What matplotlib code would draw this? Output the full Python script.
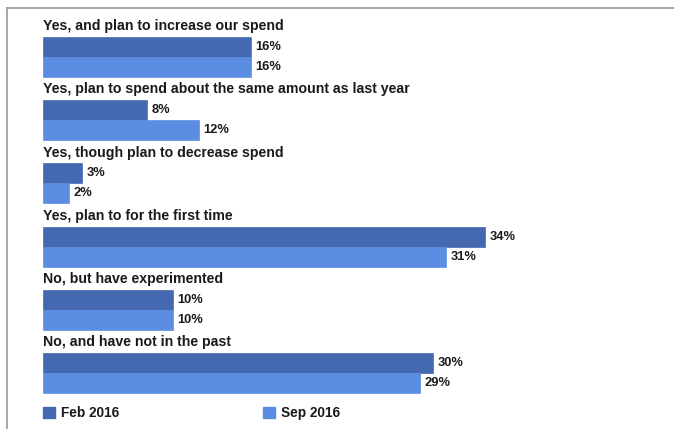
import matplotlib.pyplot as plt
from matplotlib.patches import Patch
from matplotlib.lines import Line2D

categories = [
    "Yes, and plan to increase our spend",
    "Yes, plan to spend about the same amount as last year",
    "Yes, though plan to decrease spend",
    "Yes, plan to for the first time",
    "No, but have experimented",
    "No, and have not in the past",
]
feb_2016 = [16, 8, 3, 34, 10, 30]
sep_2016 = [16, 12, 2, 31, 10, 29]
series_names = ["Feb 2016", "Sep 2016"]

DARK = "#4469b0"
LIGHT = "#5b8ee2"

plt.rcParams['font.family'] = ['Liberation Sans', 'DejaVu Sans']

W, H = 674, 429
fig = plt.figure(figsize=(W / 100, H / 100), dpi=100)
ax = fig.add_axes([0, 0, 1, 1])

# pixel layout: ~13 px per percent, 63.2 px per group, first bar top at y=37
px_per_pct = 13.0
px_per_group = 63.2
x0, y0 = 43, 37
ax.set_xlim(-x0 / px_per_pct, (W - x0) / px_per_pct)
ax.set_ylim((H - y0) / px_per_group, -y0 / px_per_group)
ax.axis('off')

bar_h = 20 / px_per_group
for i, cat in enumerate(categories):
    ax.text(0, i - 0.17, cat, fontsize=10.2, fontweight='bold', color='#1a1a1a',
            va='center', ha='left')
    for j, (vals, col) in enumerate([(feb_2016, DARK), (sep_2016, LIGHT)]):
        y = i + bar_h * (j + 0.5)
        ax.barh(y, vals[i], height=bar_h, color=col, edgecolor=col, linewidth=0.5)
        ax.text(vals[i] + 0.35, y, f"{vals[i]}%", fontsize=9.3, fontweight='bold',
                color='#1a1a1a', va='center', ha='left')

# frame line (top and left)
fig.add_artist(Line2D([7 / W, 7 / W], [0, 1 - 8 / H], color='#a0a0a0', lw=1.3))
fig.add_artist(Line2D([7 / W, 1], [1 - 8 / H, 1 - 8 / H], color='#a0a0a0', lw=1.3))

handles = [Patch(facecolor=DARK, edgecolor=DARK), Patch(facecolor=LIGHT, edgecolor=LIGHT)]
leg = ax.legend(handles, series_names, ncol=2, frameon=False,
                loc='center left', bbox_to_anchor=(43 / W, 1 - 413 / H),
                bbox_transform=fig.transFigure,
                prop={'weight': 'bold', 'size': 9.8},
                handlelength=0.9, handleheight=0.9, handletextpad=0.4,
                columnspacing=10.6, borderaxespad=0, borderpad=0)
for t in leg.get_texts():
    t.set_color('#1a1a1a')

fig.savefig('out.png', dpi=100, facecolor='white')
